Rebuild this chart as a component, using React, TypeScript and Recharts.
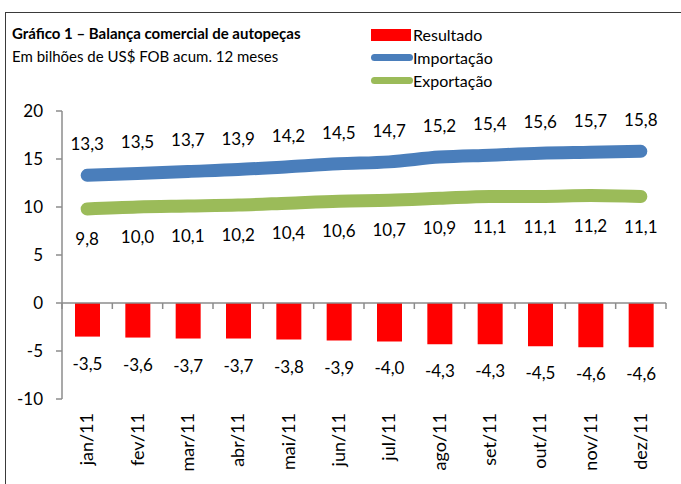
import React from "react"
import {
    ComposedChart,
    Bar,
    Line,
    XAxis,
    YAxis,
    LabelList,
    ReferenceLine,
    Legend,
} from "recharts"

const months = ["jan/11", "fev/11", "mar/11", "abr/11", "mai/11", "jun/11", "jul/11", "ago/11", "set/11", "out/11", "nov/11", "dez/11"]
const importacao = [13.3, 13.5, 13.7, 13.9, 14.2, 14.5, 14.7, 15.2, 15.4, 15.6, 15.7, 15.8]
const exportacao = [9.8, 10.0, 10.1, 10.2, 10.4, 10.6, 10.7, 10.9, 11.1, 11.1, 11.2, 11.1]
const resultado = [-3.5, -3.6, -3.7, -3.7, -3.8, -3.9, -4.0, -4.3, -4.3, -4.5, -4.6, -4.6]
const yTicks = [-10, -5, 0, 5, 10, 15, 20]
const legendOrder = ["Resultado", "Importação", "Exportação"]

const data = months.map((m, i) => ({
    month: m,
    imp: importacao[i],
    exp: exportacao[i],
    res: resultado[i],
}))

const FONT = "Lato, 'Open Sans', sans-serif"
const fmt = (v: any) => Number(v).toFixed(1).replace(".", ",")

function MonthTick(props: any) {
    const { x, y, payload } = props
    return (
        <text
            x={x}
            y={y}
            transform={`rotate(-90 ${x} ${y})`}
            textAnchor="end"
            dy="0.35em"
            fontSize={18}
            fontFamily={FONT}
            fill="#000"
        >
            {payload.value}
        </text>
    )
}

// zero axis line with small tick marks between categories
function ZeroAxis(props: any) {
    const { x1, y1, x2, y2 } = props
    const n = months.length
    const step = (x2 - x1) / n
    return (
        <g>
            <line x1={x1} y1={y1} x2={x2} y2={y2} stroke="#8c8c8c" strokeWidth={1.5} />
            {Array.from({ length: n + 1 }, (_, i) => (
                <line key={i} x1={x1 + i * step} x2={x1 + i * step} y1={y1} y2={y1 + 6} stroke="#8c8c8c" strokeWidth={1.5} />
            ))}
        </g>
    )
}

function LegendBox({ payload }: any) {
    const items = [...(payload || [])].sort(
        (a: any, b: any) => legendOrder.indexOf(a.value) - legendOrder.indexOf(b.value)
    )
    return (
        <div style={{ fontFamily: FONT, fontSize: 16, color: "#000" }}>
            {items.map((it: any) => (
                <div key={it.value} style={{ display: "flex", alignItems: "center", height: 23 }}>
                    {it.type === "rect" ? (
                        <span style={{ display: "inline-block", width: 40, height: 12, background: it.color, marginRight: 2 }} />
                    ) : (
                        <span style={{ display: "inline-block", width: 42, height: 7, borderRadius: 4, background: it.color }} />
                    )}
                    <span>{it.value}</span>
                </div>
            ))}
        </div>
    )
}

export default function App() {
    return (
        <div style={{ position: "absolute", left: 0, top: 0, width: 681, height: 484, overflow: "hidden", background: "#fff" }}>
            <div style={{ position: "absolute", left: 5, top: 12, width: 700, height: 500, border: "1px solid #3a3a3a" }} />
            <div style={{ position: "absolute", left: 12, top: 22, fontFamily: FONT, color: "#000" }}>
                <div style={{ fontSize: 15, fontWeight: 700, lineHeight: "23px" }}>Gráfico 1 – Balança comercial de autopeças</div>
                <div style={{ fontSize: 15, lineHeight: "23px" }}>Em bilhões de US$ FOB acum. 12 meses</div>
            </div>
            <div style={{ position: "absolute", left: 0, top: 0 }}>
                <ComposedChart width={681} height={484} data={data} margin={{ top: 111, right: 15, left: 0, bottom: 0 }}>
                    <XAxis
                        dataKey="month"
                        axisLine={false}
                        tickLine={false}
                        tickSize={0}
                        tickMargin={14}
                        height={85}
                        interval={0}
                        tick={<MonthTick />}
                    />
                    <YAxis
                        domain={[-10, 20]}
                        ticks={yTicks}
                        width={62}
                        axisLine={{ stroke: "#8c8c8c", strokeWidth: 1.5 }}
                        tickLine={{ stroke: "#8c8c8c", strokeWidth: 1.5 }}
                        tickSize={6}
                        tickMargin={13}
                        tick={{ fill: "#000", fontSize: 17, fontFamily: FONT }}
                    />
                    <Legend
                        layout="vertical"
                        align="center"
                        verticalAlign="middle"
                        content={<LegendBox />}
                        wrapperStyle={{ position: "absolute", left: 371, top: 23, width: 200 }}
                    />
                    <Bar dataKey="res" name="Resultado" fill="#ff0000" barSize={25} isAnimationActive={false} legendType="rect">
                        <LabelList dataKey="res" position="top" offset={21} formatter={fmt} fill="#000" fontSize={17} fontFamily={FONT} />
                    </Bar>
                    <ReferenceLine y={0} shape={<ZeroAxis />} />
                    <Line
                        type="monotone"
                        dataKey="imp"
                        name="Importação"
                        stroke="#4a7ebb"
                        strokeWidth={13}
                        strokeLinecap="round"
                        dot={false}
                        isAnimationActive={false}
                        legendType="line"
                    >
                        <LabelList dataKey="imp" position="top" offset={25} formatter={fmt} fill="#000" fontSize={17} fontFamily={FONT} />
                    </Line>
                    <Line
                        type="monotone"
                        dataKey="exp"
                        name="Exportação"
                        stroke="#9bbb59"
                        strokeWidth={13}
                        strokeLinecap="round"
                        dot={false}
                        isAnimationActive={false}
                        legendType="line"
                    >
                        <LabelList dataKey="exp" position="bottom" offset={24} formatter={fmt} fill="#000" fontSize={17} fontFamily={FONT} />
                    </Line>
                </ComposedChart>
            </div>
        </div>
    )
}
